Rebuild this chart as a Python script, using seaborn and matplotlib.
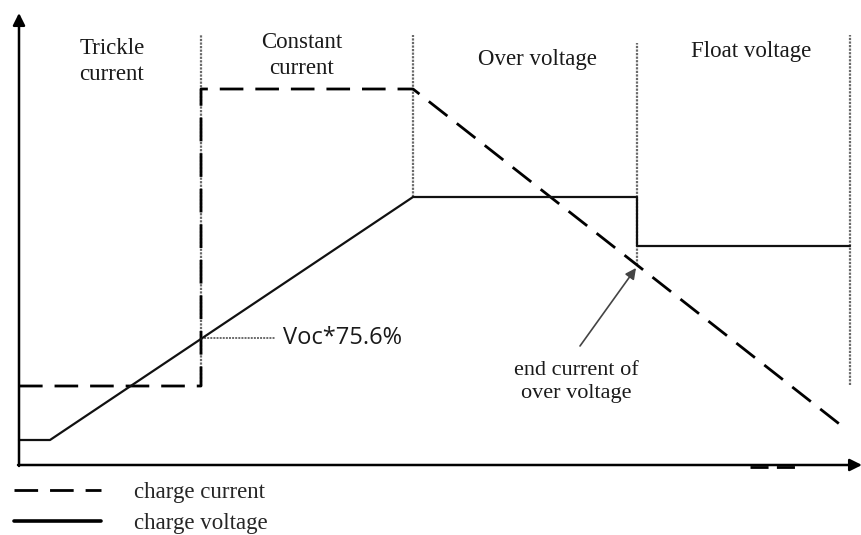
import matplotlib
matplotlib.use("Agg")
import matplotlib.pyplot as plt
from matplotlib.lines import Line2D
import seaborn as sns

# ---- data (schematic units: time along x, level along y) ----
current_t = [0, 182, 182, 394, 828]
current_level = [79, 79, 376, 376, 35]
voltage_t = [0, 31, 394, 618, 618, 831]
voltage_level = [25, 25, 268, 268, 219, 219]

phase_t = [182, 394, 618, 831]
phase_top = [430, 430, 422, 430]
phase_bottom = [79, 268, 200, 80]
phase_labels = ["Trickle\ncurrent", "Constant\ncurrent", "Over voltage", "Float voltage"]
label_t = [93, 283, 518, 732]
label_level = [427, 433, 416, 424]

voc_t = 182
voc_level = 127
voc_label = "Voc*75.6%"
end_label = "end current of\nover voltage"
end_point = (617, 197)
end_text = (557, 104)
arrow_tail = (561, 119)
axis_stub_t = [731, 781]

legend_labels = ["charge current", "charge voltage"]

sns.set_theme(style="white")
plt.rcParams["font.family"] = ["Liberation Serif", "DejaVu Serif"]

fig = plt.figure(figsize=(8.62, 5.35), dpi=100)
ax = fig.add_axes([0, 0, 1, 1])
ax.set_xlim(-19, 843)
ax.set_ylim(-70, 465)
ax.axis("off")

DASH = (8.5, 4.3)

# phase boundaries (dotted grey)
for t, top, bot in zip(phase_t, phase_top, phase_bottom):
    ax.plot([t, t], [bot, top], color="#6a6a6a", lw=1.6, linestyle=(0, (1, 0.6)), zorder=1)

# charge current (dashed)
sns.lineplot(x=current_t, y=current_level, sort=False, estimator=None, ax=ax,
             color="black", lw=2.0, zorder=3)
ax.lines[-1].set_dashes(DASH)

# charge voltage (solid)
sns.lineplot(x=voltage_t, y=voltage_level, sort=False, estimator=None, ax=ax,
             color="#111111", lw=1.6, zorder=3)

# axes with arrows
ax.annotate("", xy=(0, 452), xytext=(0, -1),
            arrowprops=dict(arrowstyle="-|>", lw=1.8, color="black",
                            mutation_scale=18, shrinkA=0, shrinkB=0))
ax.annotate("", xy=(843, 0), xytext=(-1, 0),
            arrowprops=dict(arrowstyle="-|>", lw=1.8, color="black",
                            mutation_scale=18, shrinkA=0, shrinkB=0))
ax.plot(axis_stub_t, [-2, -2], color="black", lw=2.0, dashes=(6.5, 3.0), zorder=2)

# phase labels
for lab, t, lv in zip(phase_labels, label_t, label_level):
    ax.text(t, lv, lab, ha="center", va="top", fontsize=16.5, linespacing=1.3,
            color="#1a1a1a")

# Voc annotation
ax.plot([voc_t, voc_t + 74], [voc_level, voc_level], color="#6a6a6a", lw=1.4,
        linestyle=(0, (1, 0.6)), zorder=2)
ax.text(voc_t + 82, voc_level, voc_label, ha="left", va="center",
        fontsize=17, family=["Open Sans", "DejaVu Sans"], color="#1a1a1a")

# end current annotation
ax.annotate("", xy=end_point, xytext=arrow_tail,
            arrowprops=dict(arrowstyle="-|>", lw=1.2, color="#444444",
                            mutation_scale=16, shrinkA=0, shrinkB=0))
ax.text(end_text[0], end_text[1], end_label, ha="center", va="top",
        fontsize=16, linespacing=1.3, color="#1a1a1a")

# legend
handles = [Line2D([], [], color="black", lw=2.0, dashes=DASH),
           Line2D([], [], color="black", lw=2.6)]
ax.legend(handles, legend_labels, loc="upper left",
          bbox_to_anchor=(14 / 862, 1 - 482 / 535), frameon=False,
          borderaxespad=0, borderpad=0, fontsize=16.5, handlelength=3.8,
          handletextpad=1.45, labelspacing=0.45)

fig.savefig("out.png", dpi=100)
